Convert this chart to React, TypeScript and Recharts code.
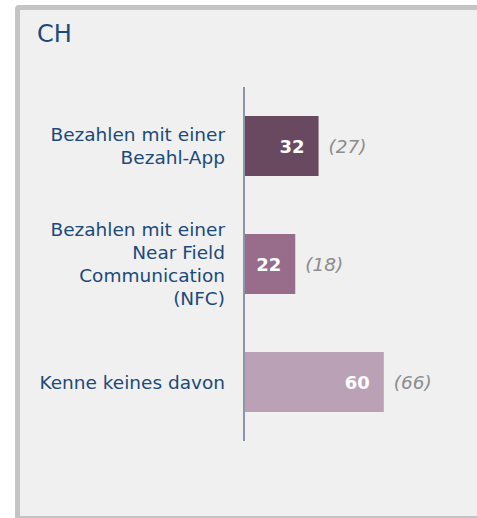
import React from "react";
import { BarChart, Bar, XAxis, YAxis, Cell, LabelList } from "recharts";

const categories = [
  ["Bezahlen mit einer", "Bezahl-App"],
  ["Bezahlen mit einer", "Near Field", "Communication", "(NFC)"],
  ["Kenne keines davon"],
];
const currentValues = [32, 22, 60];
const previousValues = [27, 18, 66];
const barColors = ["#684960", "#976d8b", "#bba1b6"];

const data = categories.map((lines, i) => ({
  name: lines.join(" "),
  value: currentValues[i],
  prev: previousValues[i],
}));

const FONT = "'DejaVu Sans', Verdana, sans-serif";
const BLUE = "#1b4a7a";
const LINE_H = 23;

const CategoryTick = ({ x, y, index }: any) => {
  const lines = categories[index] || [];
  const startY = y - ((lines.length - 1) * LINE_H) / 2 + 6.5;
  return (
    <text
      x={x}
      y={startY}
      textAnchor="end"
      fill={BLUE}
      fontSize={18.5}
      fontFamily={FONT}
    >
      {lines.map((line, i) => (
        <tspan key={i} x={x} y={startY + i * LINE_H}>
          {line}
        </tspan>
      ))}
    </text>
  );
};

const InsideLabel = ({ x, y, width, height, value }: any) => (
  <text
    x={x + width - 14}
    y={y + height / 2 + 7}
    textAnchor="end"
    fill="#ffffff"
    fontSize={18}
    fontWeight="bold"
    fontFamily={FONT}
  >
    {value}
  </text>
);

const PrevLabel = ({ x, y, width, height, value }: any) => (
  <text
    x={x + width + 10}
    y={y + height / 2 + 7}
    textAnchor="start"
    fill="#8c8c8c"
    fontSize={18.5}
    fontStyle="italic"
    fontFamily={FONT}
  >
    ({value})
  </text>
);

export default function App() {
  return (
    <div
      style={{
        position: "absolute",
        left: 0,
        top: 0,
        width: 477,
        height: 518,
        overflow: "hidden",
        background: "#ffffff",
      }}
    >
      <div
        style={{
          position: "absolute",
          left: 15,
          top: 5,
          width: 560,
          height: 516,
          boxSizing: "border-box",
          border: "5px solid #c4c4c4",
          borderRadius: 4,
          background: "#f0f0f0",
        }}
      />
      <div
        style={{
          position: "absolute",
          left: 37,
          top: 22,
          fontFamily: FONT,
          fontSize: 24,
          lineHeight: "24px",
          color: BLUE,
        }}
      >
        CH
      </div>
      <div style={{ position: "absolute", left: 0, top: 0 }}>
        <BarChart
          width={477}
          height={518}
          data={data}
          layout="vertical"
          margin={{ top: 87, right: 0, bottom: 77, left: 0 }}
        >
          <XAxis type="number" domain={[0, 100]} hide />
          <YAxis
            type="category"
            dataKey="name"
            width={244}
            axisLine={{ stroke: "#8b97a9", strokeWidth: 2 }}
            tickLine={false}
            tickSize={6}
            tickMargin={13}
            tick={<CategoryTick />}
          />
          <Bar dataKey="value" barSize={60} isAnimationActive={false}>
            {data.map((_, i) => (
              <Cell key={i} fill={barColors[i]} />
            ))}
            <LabelList dataKey="value" content={<InsideLabel />} />
            <LabelList dataKey="prev" content={<PrevLabel />} />
          </Bar>
        </BarChart>
      </div>
    </div>
  );
}
